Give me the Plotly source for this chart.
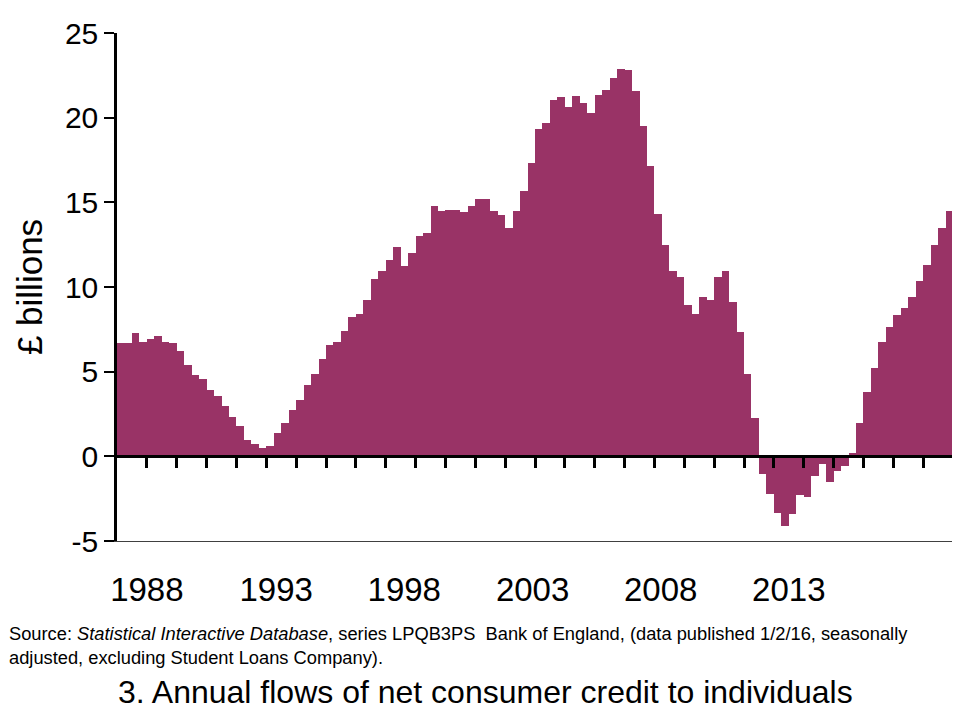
import numpy as np
import plotly.graph_objects as go

# annual flows of net consumer credit, £ billions, quarterly 1988 Q1 .. 2015 Q4
start_year = 1988
flows = [
    6.72, 6.72, 7.31, 6.78,      # 1988
    6.90, 7.13, 6.78, 6.72,      # 1989
    6.25, 5.37, 4.78, 4.54,      # 1990
    3.89, 3.54, 2.95, 2.30,      # 1991
    1.77, 0.94, 0.71, 0.47,      # 1992
    0.59, 1.36, 1.95, 2.71,      # 1993
    3.30, 4.19, 4.89, 5.72,      # 1994
    6.60, 6.78, 7.43, 8.20,      # 1995
    8.43, 9.26, 10.50, 10.97,    # 1996
    11.62, 12.38, 11.26, 12.03,  # 1997
    13.03, 13.21, 14.80, 14.50,  # 1998
    14.56, 14.56, 14.45, 14.80,  # 1999
    15.21, 15.21, 14.50, 14.27,  # 2000
    13.50, 14.50, 15.68, 17.33,  # 2001
    19.34, 19.69, 21.05, 21.23,  # 2002
    20.64, 21.29, 20.87, 20.28,  # 2003
    21.35, 21.64, 22.35, 22.88,  # 2004
    22.82, 21.58, 19.52, 17.16,  # 2005
    14.33, 12.50, 10.97, 10.61,  # 2006
    8.96, 8.43, 9.43, 9.26,      # 2007
    10.61, 10.97, 9.14, 7.37,    # 2008
    4.89, 2.24, -1.04, -2.22,    # 2009
    -3.34, -4.11, -3.40, -2.28,  # 2010
    -2.40, -1.16, -0.47, -1.51,  # 2011
    -0.88, -0.57, 0.18, 1.95,    # 2012
    3.77, 5.19, 6.78, 7.61,      # 2013
    8.37, 8.78, 9.43, 10.38,     # 2014
    11.32, 12.50, 13.50, 14.50,  # 2015
]
year_labels = ["1988", "1993", "1998", "2003", "2008", "2013"]
# the original puts its year labels where they drift away from the year ticks
label_pos = [1989.0, 1993.33, 1997.62, 2001.92, 2006.21, 2010.5]
y_ticks = [-5, 0, 5, 10, 15, 20, 25]

n = len(flows)
end_year = start_year + n // 4
quarter_x = start_year + (np.arange(n) + 0.5) / 4
year_ticks = list(range(start_year + 1, end_year + 1))

FONT = "Arial, Liberation Sans, sans-serif"
# the page body has an 8px margin, so the figure is drawn 8px in from the corner
OFF = 8
W, H = 960 - OFF, 720 - OFF
L, R, T, B = 117 - OFF, 7, 33 - OFF, 179
pw, ph = W - L - R, H - T - B


def px_x(x):
    # page pixel -> paper fraction
    return (x - OFF - L) / pw


def px_y(y):
    return (H - B - (y - OFF)) / ph


fig = go.Figure()
fig.add_trace(go.Bar(
    x=quarter_x, y=flows, width=0.25,
    marker=dict(color="#993366", line=dict(width=0)),
    showlegend=False))
# empty trace so the zero-line axis gets a subplot
fig.add_trace(go.Scatter(x=[], y=[], xaxis="x2", showlegend=False, hoverinfo="skip"))

fig.update_layout(
    width=W, height=H,
    margin=dict(l=L, r=R, t=T, b=B, autoexpand=False),
    paper_bgcolor="white", plot_bgcolor="white",
    font=dict(family=FONT, color="black"),
    bargap=0,
    xaxis=dict(
        range=[start_year, end_year], automargin=False,
        tickmode="array", tickvals=label_pos, ticktext=year_labels,
        ticks="", tickfont=dict(size=33), ticklabelstandoff=19,
        showline=True, linecolor="#404040", linewidth=1,
        showgrid=False, zeroline=False,
    ),
    xaxis2=dict(
        overlaying="x", anchor="free", position=5 / 30,
        range=[start_year, end_year], automargin=False,
        tickmode="array", tickvals=year_ticks,
        ticks="outside", ticklen=10, tickwidth=3, tickcolor="black",
        showticklabels=False,
        showline=True, linecolor="black", linewidth=3,
        showgrid=False, zeroline=False,
    ),
    yaxis=dict(
        range=[-5, 25], automargin=False,
        tickmode="array", tickvals=y_ticks, ticktext=[str(v) for v in y_ticks],
        ticks="outside", ticklen=10, tickwidth=2, tickcolor="black",
        tickfont=dict(size=30),
        showline=True, linecolor="black", linewidth=2.5,
        showgrid=False, zeroline=False,
        title=dict(text="£ billions", font=dict(size=35), standoff=12),
    ),
)

fig.add_annotation(
    xref="paper", yref="paper", x=px_x(7), y=px_y(621),
    xanchor="left", yanchor="top", align="left", showarrow=False,
    text="Source: <i>Statistical Interactive Database</i>, series LPQB3PS\u00a0\u00a0Bank of England, "
         "(data published 1/2/16, seasonally<br>adjusted, excluding Student Loans Company).",
    font=dict(size=18.3, family=FONT))
fig.add_annotation(
    xref="paper", yref="paper", x=px_x(485), y=px_y(692),
    xanchor="center", yanchor="middle", showarrow=False,
    text="3. Annual flows of net consumer credit to individuals",
    font=dict(size=32, family=FONT))

fig.write_html("out.html")
